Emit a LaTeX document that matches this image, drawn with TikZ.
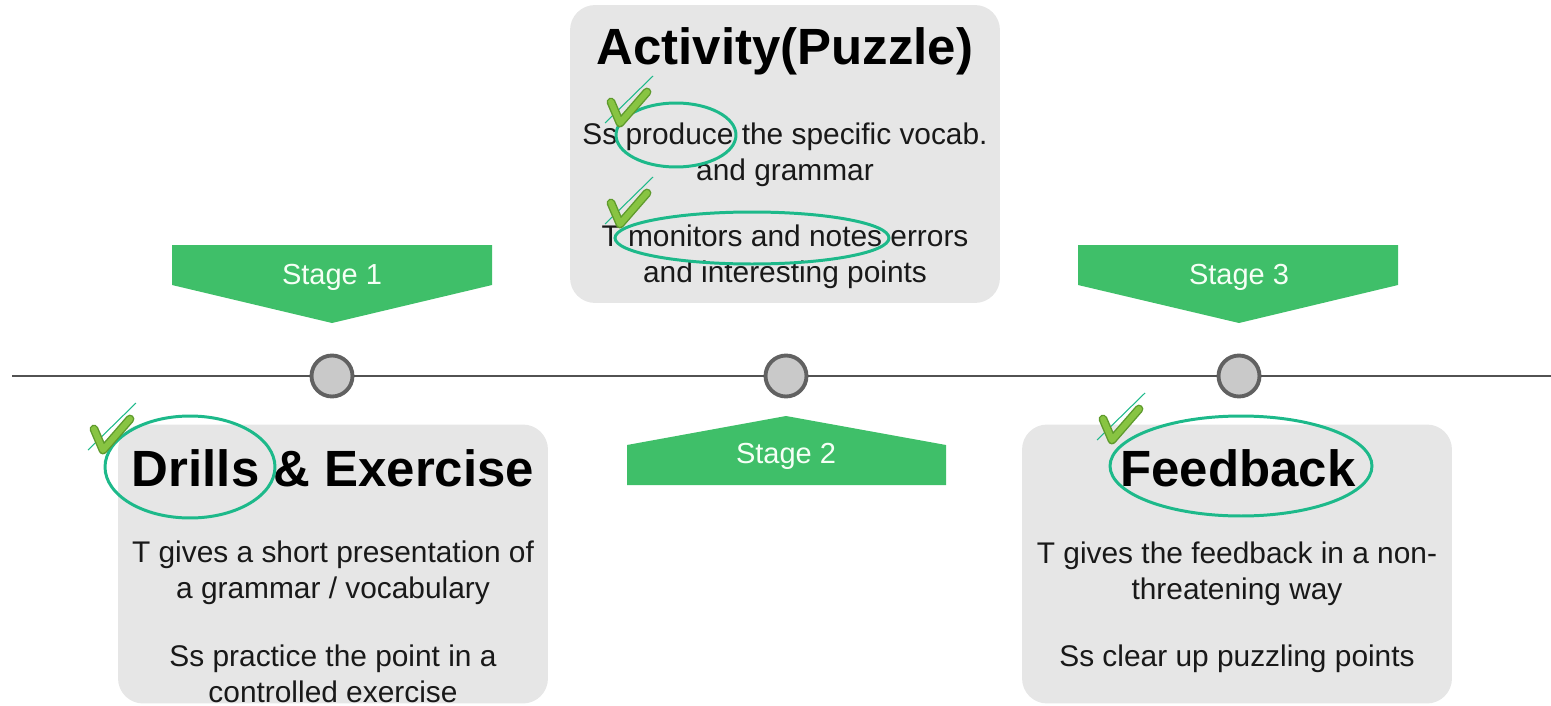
\documentclass[tikz,border=0pt]{standalone}
\usepackage{fontspec}
\setmainfont{Liberation Sans}
\usetikzlibrary{shapes.geometric}
\definecolor{stagegreen}{HTML}{3FBF69}
\definecolor{markteal}{HTML}{1DB98A}
\definecolor{boxgrey}{HTML}{E6E6E6}
\definecolor{tickgreen}{HTML}{88C442}
\definecolor{tickdark}{HTML}{5E9A2C}

\begin{document}
\begin{tikzpicture}[
  x=0.02cm, y=-0.02cm,
  card/.style={fill=boxgrey,rounded corners=0.5cm,inner sep=0pt,
               minimum width=8.6cm},
  title/.style={font=\fontsize{29}{34}\selectfont\bfseries,text=black},
  body/.style={align=center,font=\fontsize{17}{20.5}\selectfont,text=black!90},
  stagefill/.style={fill=stagegreen},
  stagetext/.style={font=\fontsize{16.5}{20}\selectfont,text=green!4},
  dot/.style={circle,draw=black!62,fill=black!21,line width=2.2pt,
              minimum size=0.82cm,inner sep=0pt},
  axis/.style={draw=black!68,line width=1.7pt},
  hilite/.style={ellipse,draw=markteal,line width=1.7pt,inner sep=0pt},
  okmark/.pic={
    \draw[markteal,line width=0.6pt] (-15,0) -- (33,-47);
    \draw[tickdark,line width=5pt,line cap=round,line join=round]
      (-9,-21) -- (0,0) -- (27,-31);
    \draw[tickgreen,line width=3.4pt,line cap=round,line join=round]
      (-9,-21) -- (0,0) -- (27,-31);
  }
]
  \useasboundingbox (0,0) rectangle (1551,706);

  % grey cards
  \node[card,minimum height=5.96cm] (actcard) at (785,154) {};
  \node[card,minimum height=5.58cm] (drillcard) at (333,564) {};
  \node[card,minimum height=5.58cm] (fbcard) at (1237,564) {};

  % timeline
  \coordinate (lineL) at (12,376);
  \coordinate (lineR) at (1551,376);
  \node[dot] (c1) at (332,376) {};
  \node[dot] (c2) at (786,376) {};
  \node[dot] (c3) at (1239,376) {};
  \draw[axis] (lineL) -- (c1) -- (c2) -- (c3) -- (lineR);

  % stage markers
  \fill[stagefill] (172,245) -- (492,245) -- (492,285) -- (332,323) -- (172,285) -- cycle;
  \fill[stagefill] (1078,245) -- (1398,245) -- (1398,285) -- (1239,323) -- (1078,285) -- cycle;
  \fill[stagefill] (627,485) -- (946,485) -- (946,445) -- (786,416) -- (627,445) -- cycle;
  \node[stagetext] (s1) at (332,277) {Stage 1};
  \node[stagetext] (s2) at (786,456) {Stage 2};
  \node[stagetext] (s3) at (1239,277) {Stage 3};

  % card texts
  \node[title] (acttitle) at (785,51) {Activity(Puzzle)};
  \node[body] (actA) at (785,155) {Ss produce the specific vocab.\\and grammar};
  \node[body] (actB) at (785,257) {T monitors and notes errors\\and interesting points};

  \node[title] (drilltitle) at (333,468) {Drills \& Exercise};
  \node[body] (drillA) at (333,573) {T gives a short presentation of\\a grammar / vocabulary};
  \node[body] (drillB) at (333,674) {Ss practice the point in a\\controlled exercise};

  \node[title] (fbtitle) at (1238,468) {Feedback};
  \node[body] (fbA) at (1237,574) {T gives the feedback in a non-\\threatening way};
  \node[body] (fbB) at (1237,659) {Ss clear up puzzling points};

  % highlights
  \node[hilite,minimum width=2.4cm,minimum height=1.28cm] (hlA) at (676,135) {};
  \node[hilite,minimum width=5.48cm,minimum height=1.04cm] (hlB) at (752,238) {};
  \node[hilite,minimum width=3.4cm,minimum height=2.04cm] (hlC) at (190,467) {};
  \node[hilite,minimum width=5.24cm,minimum height=2.0cm] (hlD) at (1241,466) {};

  \pic at (620,123) {okmark};
  \pic at (620,224) {okmark};
  \pic at (103,450) {okmark};
  \pic at (1112,440) {okmark};
\end{tikzpicture}
\end{document}
